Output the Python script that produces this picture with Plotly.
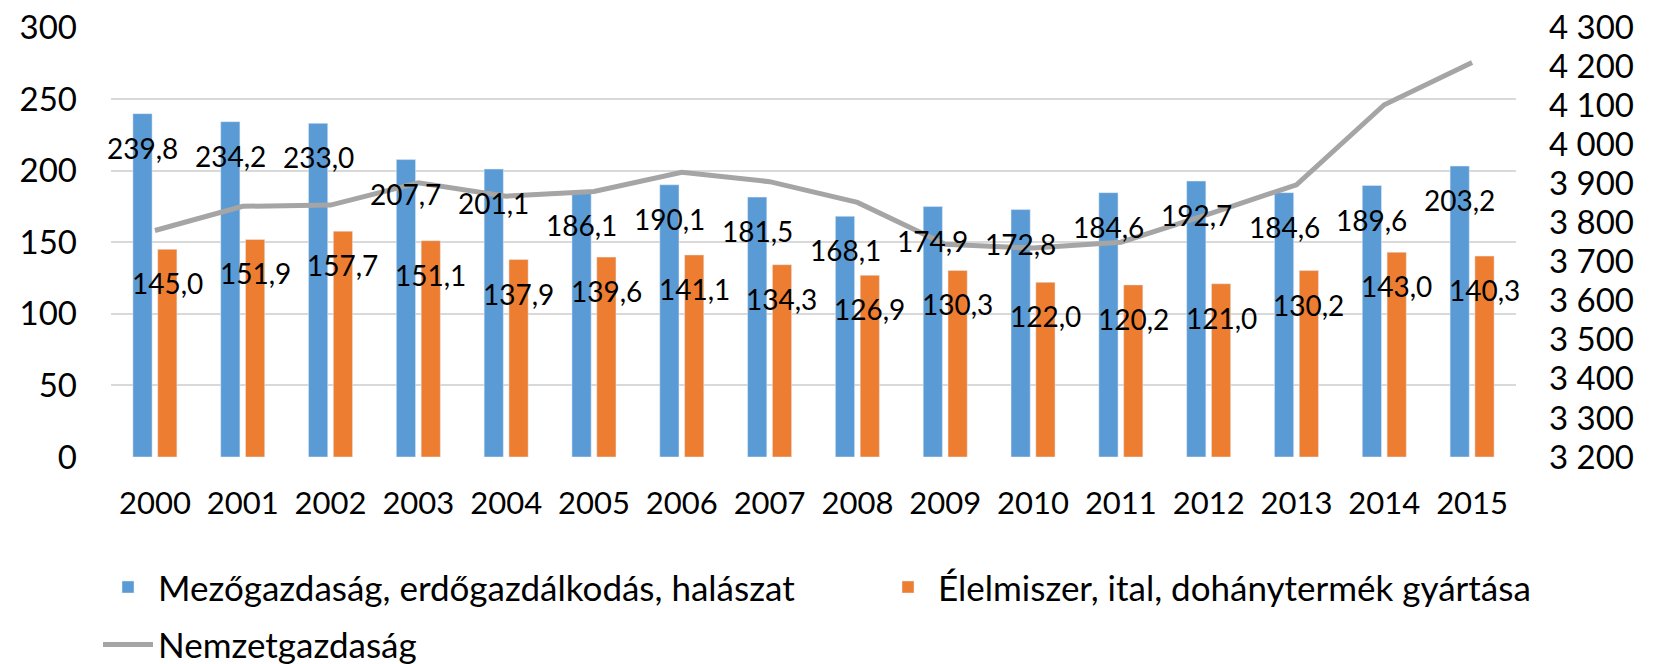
import plotly.graph_objects as go

years = [str(y) for y in range(2000, 2016)]
agri = [239.8, 234.2, 233.0, 207.7, 201.1, 186.1, 190.1, 181.5, 168.1, 174.9,
        172.8, 184.6, 192.7, 184.6, 189.6, 203.2]
food = [145.0, 151.9, 157.7, 151.1, 137.9, 139.6, 141.1, 134.3, 126.9, 130.3,
        122.0, 120.2, 121.0, 130.2, 143.0, 140.3]
national = [3780, 3842, 3845, 3902, 3868, 3880, 3929, 3905, 3852, 3745,
            3735, 3750, 3822, 3897, 4102, 4210]

name_agri = "Mezőgazdaság, erdőgazdálkodás, halászat"
name_food = "Élelmiszer, ital, dohánytermék gyártása"
name_nat = "Nemzetgazdaság"

BLUE = "#5B9BD5"
ORANGE = "#ED7D31"
GRAY = "#A5A5A5"
FONT = "Lato"

PLOT_L, PLOT_R = 111, 1516
PLOT_W = PLOT_R - PLOT_L


def fmt(v):
    return f"{v:.1f}".replace(".", ",")


fig = go.Figure()
fig.add_trace(go.Bar(x=years, y=agri, name=name_agri, marker_color=BLUE,
                     legend="legend", legendgroup="a"))
fig.add_trace(go.Bar(x=years, y=food, name=name_food, marker_color=ORANGE,
                     legend="legend2", legendgroup="b"))
fig.add_trace(go.Scatter(x=years, y=national, name=name_nat, yaxis="y2",
                         mode="lines", line=dict(color=GRAY, width=5),
                         legend="legend", legendgroup="c"))

annotations = []
for i, (a, f) in enumerate(zip(agri, food)):
    annotations.append(dict(x=i, y=a, xref="x", yref="y", text=fmt(a),
                            showarrow=False, xshift=-12.4, yshift=-34,
                            yanchor="middle",
                            font=dict(family=FONT, size=28, color="black")))
    annotations.append(dict(x=i, y=f, xref="x", yref="y", text=fmt(f),
                            showarrow=False, xshift=12.4, yshift=-34,
                            yanchor="middle",
                            font=dict(family=FONT, size=28, color="black")))

fig.update_layout(
    width=1654, height=664,
    margin=dict(l=PLOT_L, r=1654 - PLOT_R, t=27, b=207),
    paper_bgcolor="white", plot_bgcolor="white",
    separators=", ",
    barmode="group", bargap=0.435, bargroupgap=0.226,
    font=dict(family=FONT, size=32, color="black"),
    annotations=annotations,
    xaxis=dict(type="category", range=[-0.5, len(years) - 0.5],
               showgrid=False, ticks="", ticklabelstandoff=25,
               showline=False, automargin=False, tickfont=dict(size=31)),
    yaxis=dict(range=[0, 300.3], tickvals=[0, 50, 100, 150, 200, 250, 300],
               showgrid=True, gridcolor="#D9D9D9",
               gridwidth=1.5, zeroline=False, ticks="", ticklabelstandoff=33,
               showline=False, automargin=False, tickfont=dict(size=33)),
    yaxis2=dict(range=[3200, 4301.1], dtick=100, tick0=3200, overlaying="y",
                side="right", showgrid=False, zeroline=False, ticks="",
                ticklabelstandoff=32, automargin=False, tickformat=",d",
                tickfont=dict(size=33)),
    legend=dict(x=(98 - PLOT_L) / PLOT_W, xanchor="left", xref="paper",
                y=0.16, yanchor="top", yref="container",
                orientation="v", traceorder="grouped", tracegroupgap=9,
                itemwidth=50, font=dict(size=35), bgcolor="rgba(0,0,0,0)"),
    legend2=dict(x=(878 - PLOT_L) / PLOT_W, xanchor="left", xref="paper",
                 y=0.16, yanchor="top", yref="container",
                 orientation="v", itemwidth=50, font=dict(size=35),
                 bgcolor="rgba(0,0,0,0)"),
)

fig.write_html("out.html", config={"displayModeBar": False},
               post_script="document.body.style.margin='0';"
                           "document.body.style.overflow='hidden';")
